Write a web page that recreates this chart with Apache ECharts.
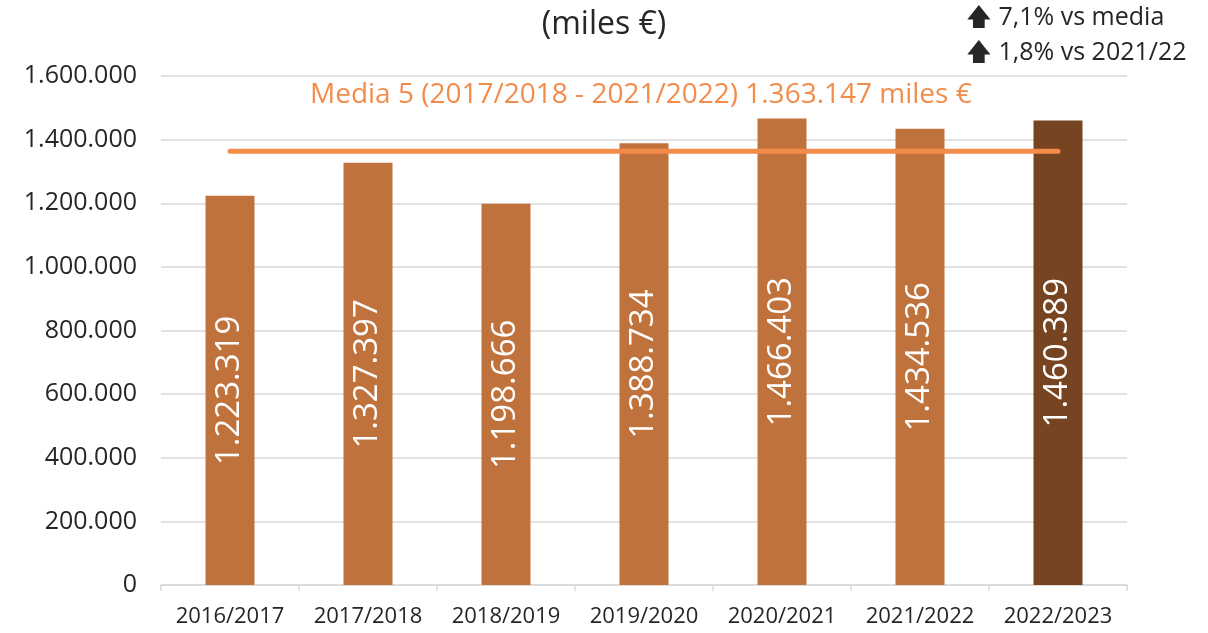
<!DOCTYPE html>
<html><head><meta charset="utf-8">
<script src="https://cdn.jsdelivr.net/npm/echarts@6/dist/echarts.min.js"></script>
<style>html,body{margin:0;padding:0;background:#fff}#c{width:1208px;height:633px}</style>
</head><body><div id="c"></div>
<script>
const categories = ["2016/2017","2017/2018","2018/2019","2019/2020","2020/2021","2021/2022","2022/2023"];
const values = [1223319,1327397,1198666,1388734,1466403,1434536,1460389];
const mediaValue = 1363147;
const yTicks = [0,200000,400000,600000,800000,1000000,1200000,1400000,1600000];
const titleText = "(miles €)";
const mediaText = "Media 5 (2017/2018 - 2021/2022) 1.363.147 miles €";
const noteLines = ["7,1% vs media","1,8% vs 2021/22"];

const FONT = "Open Sans";
function fmt(v){return String(v).replace(/\B(?=(\d{3})+(?!\d))/g,".");}

const chart = echarts.init(document.getElementById('c'));
chart.setOption({
  animation:false,
  backgroundColor:'#fff',
  textStyle:{fontFamily:FONT},
  title:[
    {text:titleText,left:'center',top:4,textStyle:{fontFamily:FONT,fontSize:32,fontWeight:'normal',color:'#262626'}},
    {text:mediaText,left:305,top:76,textStyle:{fontFamily:FONT,fontSize:28,fontWeight:'normal',color:'#F28C4B'}}
  ],
  graphic:[
    {type:'text',left:966,top:5,style:{text:'🡅 '+noteLines[0],font:'25px "'+FONT+'"',fill:'#262626'}},
    {type:'text',left:966,top:40,style:{text:'🡅 '+noteLines[1],font:'25px "'+FONT+'"',fill:'#262626'}}
  ],
  grid:{left:161,right:81,top:76,bottom:48,containLabel:false},
  xAxis:{type:'category',data:categories,
    axisLine:{lineStyle:{color:'#d9d9d9',width:1.5}},
    axisTick:{show:true,length:6,lineStyle:{color:'#d9d9d9',width:1.5}},
    axisLabel:{interval:0,color:'#262626',fontSize:22,fontFamily:FONT,margin:21}},
  yAxis:{type:'value',min:0,max:1600000,interval:200000,
    axisLine:{show:false},axisTick:{show:false},
    splitLine:{lineStyle:{color:'#d9d9d9',width:1.5}},
    axisLabel:{color:'#262626',fontSize:25,fontFamily:FONT,margin:24,formatter:v=>fmt(v)}},
  series:[
    {type:'bar',data:values.map((v,i)=>({value:v,itemStyle:{color:i===values.length-1?'#764420':'#C0723C'}})),
     barWidth:49,
     label:{show:true,position:'inside',rotate:90,color:'#fff',fontSize:33,fontFamily:FONT,formatter:p=>fmt(p.value)}},
    {type:'line',data:categories.map(()=>mediaValue),symbol:'none',
     lineStyle:{color:'#F28C4B',width:5,cap:'round'},z:5}
  ]
});
</script></body></html>
